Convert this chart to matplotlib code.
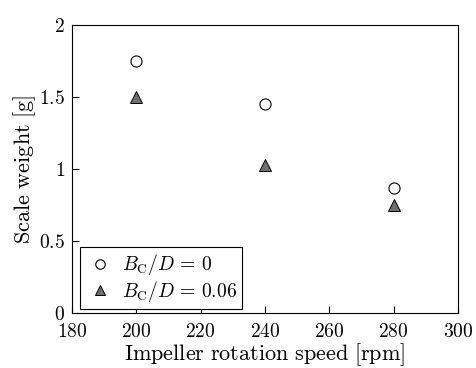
import matplotlib
matplotlib.use("Agg")
import matplotlib.pyplot as plt

plt.rcParams['font.family'] = 'serif'
plt.rcParams['font.serif'] = ['cmr10']
plt.rcParams['mathtext.fontset'] = 'cm'
plt.rcParams['axes.formatter.use_mathtext'] = True

# data
speed = [200, 240, 280]
w_bc0 = [1.75, 1.45, 0.87]
w_bc006 = [1.50, 1.03, 0.75]

fig = plt.figure(figsize=(4.76, 3.68), dpi=100)
ax = fig.add_axes([0.151, 0.149, 0.811, 0.783])

ax.plot(speed, w_bc0, 'o', ms=8, mfc='white', mec='black', mew=0.8,
        label=r'$B_{\mathrm{C}}/D\,=\,0$')
ax.plot(speed, w_bc006, '^', ms=9, mfc='#6e6e6e', mec='black', mew=0.7,
        label=r'$B_{\mathrm{C}}/D\,=\,0.06$')

ax.set_xlim(180, 300)
ax.set_ylim(0, 2)
ax.set_xticks([180, 200, 220, 240, 260, 280, 300])
ax.set_xticklabels([r'$\mathrm{%d}$' % v for v in [180, 200, 220, 240, 260, 280, 300]])
ax.set_yticks([0, 0.5, 1, 1.5, 2])
ax.set_yticklabels([r'$\mathrm{0}$', r'$\mathrm{0.5}$', r'$\mathrm{1}$',
                    r'$\mathrm{1.5}$', r'$\mathrm{2}$'])
ax.tick_params(direction='in', labelsize=14, length=5, width=0.8)
ax.tick_params(axis='x', pad=7)
ax.tick_params(axis='y', pad=5)
ax.set_xlabel(r'$\mathrm{Impeller\ rotation\ speed\ [rpm]}$', fontsize=16, labelpad=0.5)
ax.set_ylabel(r'$\mathrm{Scale\ weight\ [g]}$', fontsize=16, labelpad=1)

leg = ax.legend(loc='lower left', bbox_to_anchor=(8 / 386, 4 / 288), borderaxespad=0,
                fontsize=14, fancybox=False, edgecolor='black', framealpha=1,
                handletextpad=0.3, borderpad=0.25, labelspacing=0.1,
                handlelength=1.6, markerscale=0.85)
leg.get_frame().set_linewidth(0.8)

fig.savefig('out.png', dpi=100)
